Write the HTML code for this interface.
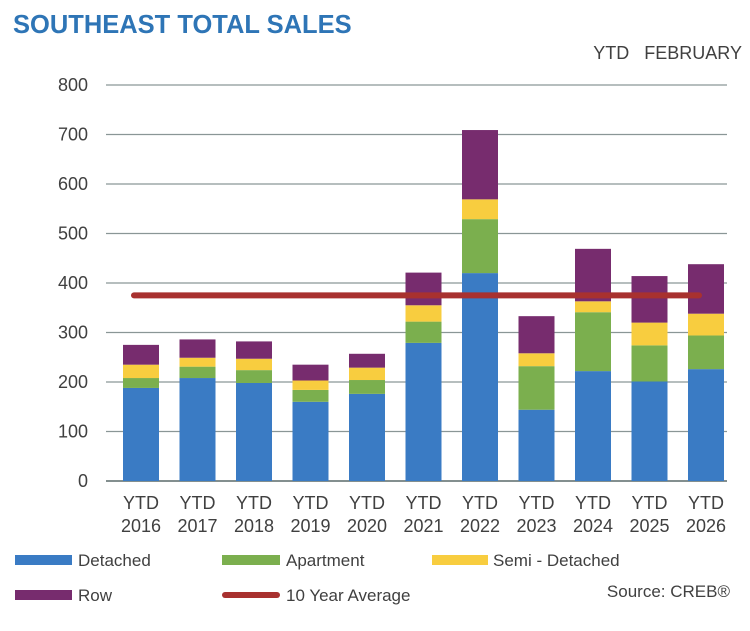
<!DOCTYPE html>
<html><head><meta charset="utf-8"><style>
body{margin:0;background:#fff;font-family:"Liberation Sans",sans-serif;}
</style></head><body>
<svg id="c" width="750" height="626" xmlns="http://www.w3.org/2000/svg" font-family="Liberation Sans, sans-serif">
<text x="13" y="33" font-size="25.5" font-weight="bold" fill="#2E75B6">SOUTHEAST TOTAL SALES</text>
<text x="742" y="59" font-size="18" fill="#404040" text-anchor="end" style="white-space:pre">YTD   FEBRUARY</text>
<g id="grid"></g><g id="bars"></g><g id="avg"></g><g id="xl"></g>
<g font-size="17" fill="#404040">
<rect x="15" y="555" width="57" height="10" fill="#3A7BC4"/>
<text x="78" y="566">Detached</text>
<rect x="222" y="555" width="58" height="10" fill="#7BAF4E"/>
<text x="286" y="566">Apartment</text>
<rect x="432" y="555" width="56" height="10" fill="#F8CD3F"/>
<text x="493" y="566">Semi - Detached</text>
<rect x="15" y="590" width="57" height="10" fill="#772C6E"/>
<text x="78" y="601">Row</text>
<rect x="222" y="592" width="58" height="6" rx="3" fill="#A8312F"/>
<text x="286" y="601">10 Year Average</text>
</g>
<text x="730" y="597" font-size="17" fill="#404040" text-anchor="end">Source: CREB®</text>
</svg>
<script>
const years=["2016","2017","2018","2019","2020","2021","2022","2023","2024","2025","2026"];
const detached=[188,208,198,160,176,279,420,144,222,201,226];
const apartment=[20,23,26,24,28,43,109,88,119,73,68];
const semi=[27,18,23,19,25,33,40,26,22,46,44];
const row=[40,37,35,32,28,66,140,75,106,94,100];
const average=[375];
const ticks=[0,100,200,300,400,500,600,700,800];
const NS="http://www.w3.org/2000/svg";
const y=v=>481-v*0.495;
const x=i=>141+i*56.5;
function mk(t,a,p){const e=document.createElementNS(NS,t);for(const k in a)e.setAttribute(k,a[k]);p.appendChild(e);return e;}
const g=document.getElementById('grid');
ticks.forEach(t=>{
 const l=mk('line',{x1:106,x2:727,y1:y(t),y2:y(t),stroke:t===0?'#5a6a6a':'#8a9696','stroke-width':t===0?1.5:1.2},g);
 
 
 const tx=mk('text',{x:88,y:y(t)+6,'font-size':18,fill:'#404040','text-anchor':'end'},g);tx.textContent=t;
 
 
});
const b=document.getElementById('bars');
const series=[[detached,'#3A7BC4','detached'],[apartment,'#7BAF4E','apartment'],[semi,'#F8CD3F','semi'],[row,'#772C6E','row']];
years.forEach((yr,i)=>{
 let base=0;
 series.forEach(([arr,col,nm])=>{
  const v=arr[i];
  const r=mk('rect',{x:x(i)-18,y:y(base+v),width:36,height:v*0.495,fill:col},b);
  
  
  base+=v;
 });
 const xl=document.getElementById('xl');
 const t1=mk('text',{x:x(i),y:509,'font-size':18,fill:'#404040','text-anchor':'middle'},xl);t1.textContent='YTD';
 
 
 const t2=mk('text',{x:x(i),y:532,'font-size':18,fill:'#404040','text-anchor':'middle'},xl);t2.textContent=yr;
 
 
});
const a=mk('line',{x1:x(0)-7,x2:x(years.length-1)-7,y1:y(average[0]),y2:y(average[0]),stroke:'#A8312F','stroke-width':6,'stroke-linecap':'round'},document.getElementById('avg'));


</script>
</body></html>
